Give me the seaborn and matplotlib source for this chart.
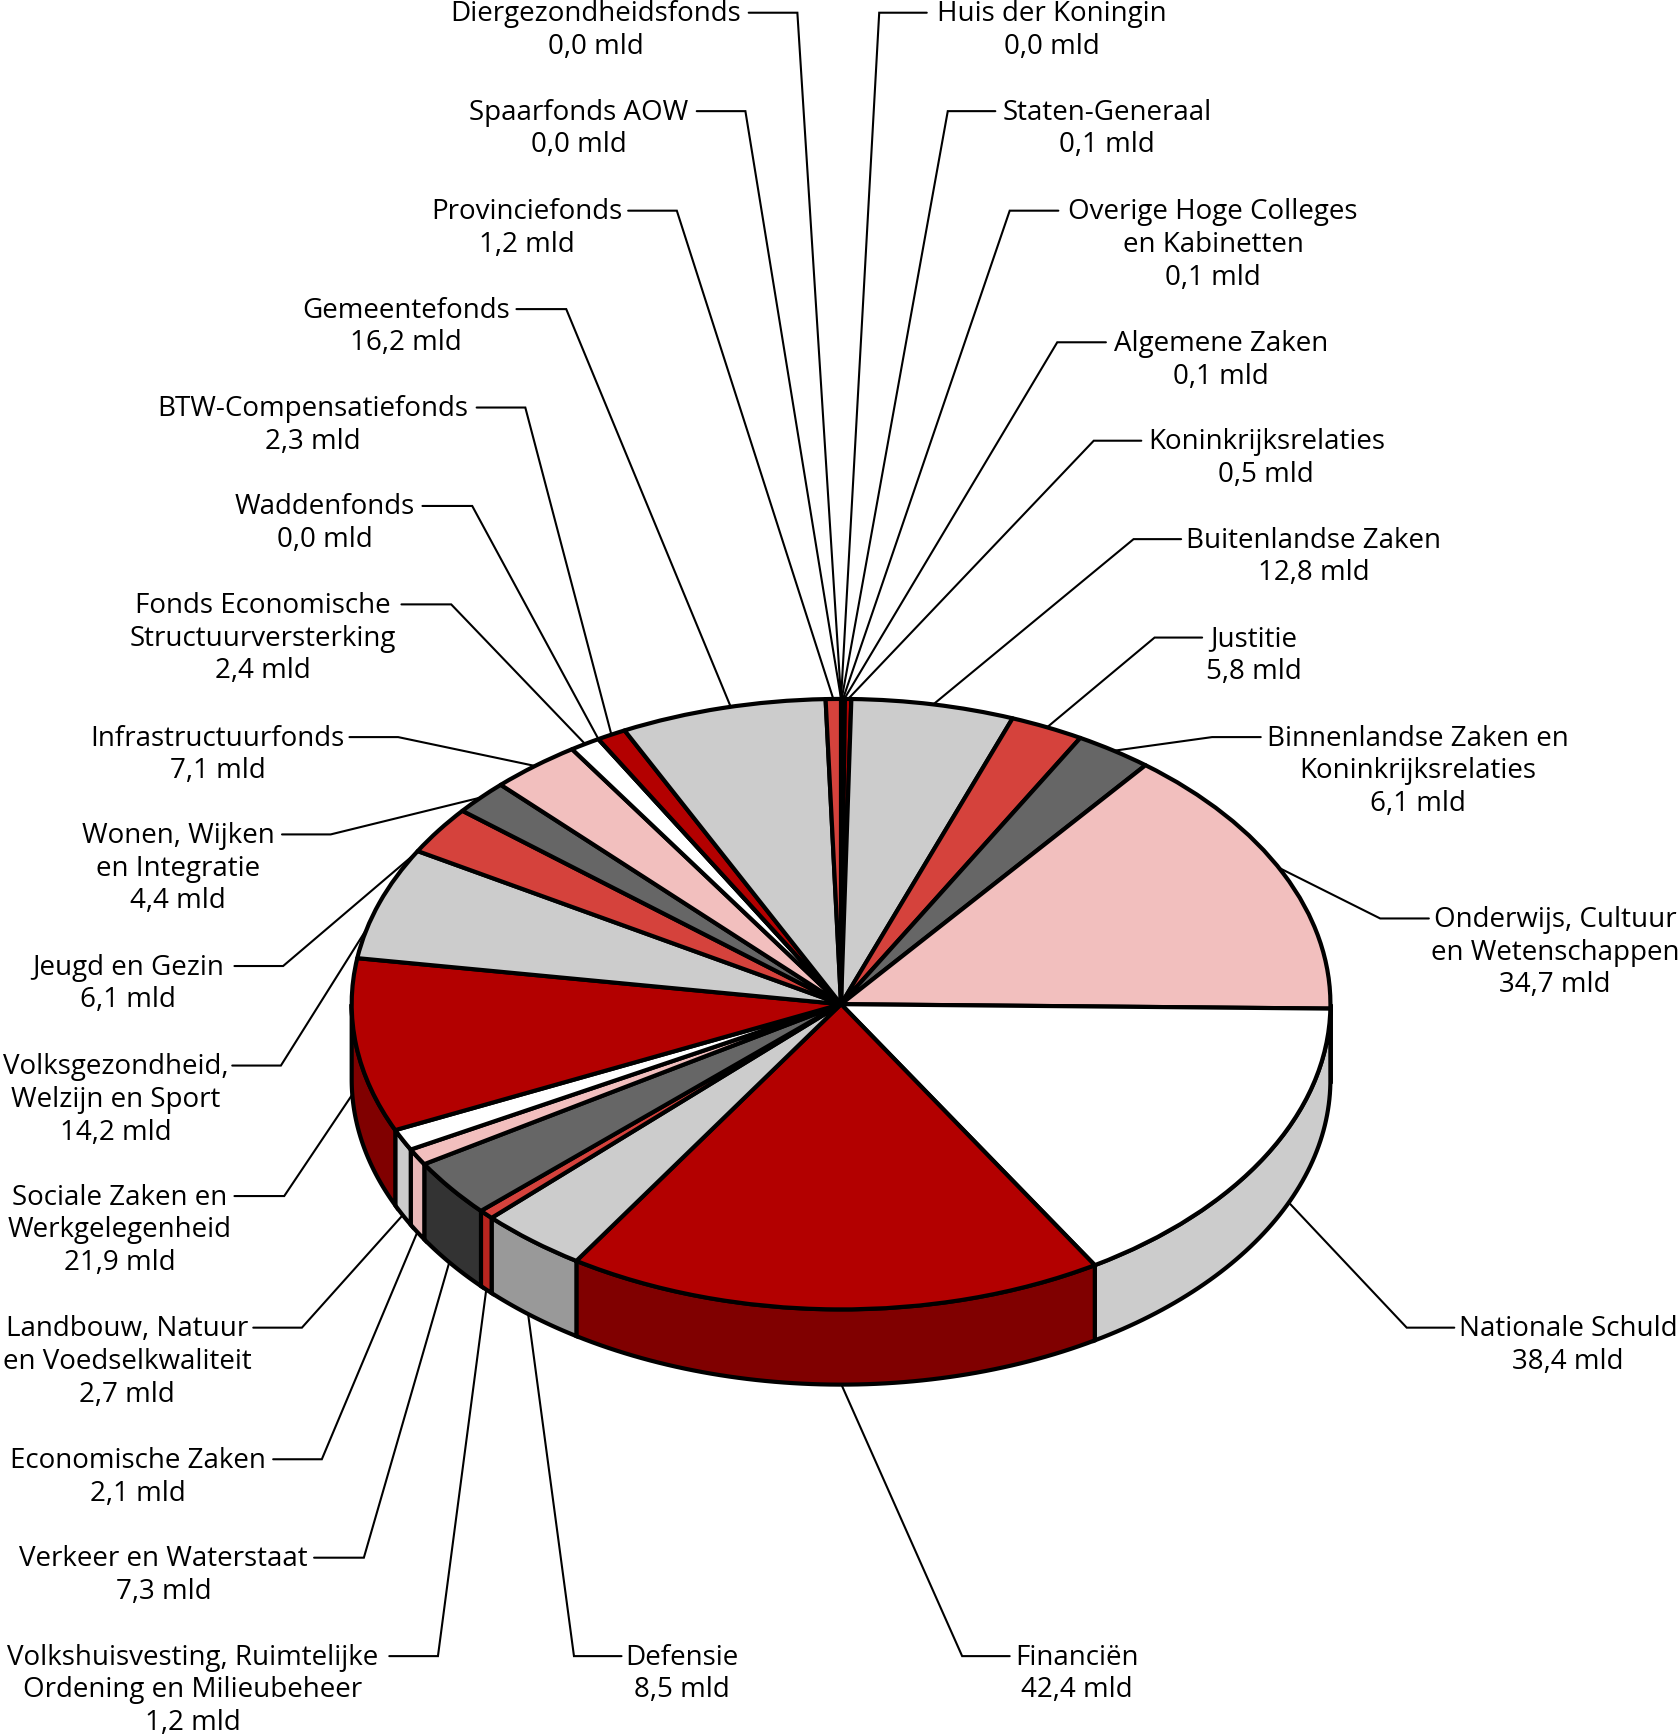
import numpy as np
import seaborn as sns
import matplotlib.pyplot as plt

# clockwise from the top of the pie
labels = ["Huis der Koningin", "Staten-Generaal", "Overige Hoge Colleges\nen Kabinetten", "Algemene Zaken",
          "Koninkrijksrelaties", "Buitenlandse Zaken", "Justitie", "Binnenlandse Zaken en\nKoninkrijksrelaties",
          "Onderwijs, Cultuur\nen Wetenschappen", "Nationale Schuld", "Financiën", "Defensie",
          "Volkshuisvesting, Ruimtelijke\nOrdening en Milieubeheer", "Verkeer en Waterstaat", "Economische Zaken",
          "Landbouw, Natuur\nen Voedselkwaliteit", "Sociale Zaken en\nWerkgelegenheid", "Volksgezondheid,\nWelzijn en Sport",
          "Jeugd en Gezin", "Wonen, Wijken\nen Integratie", "Infrastructuurfonds", "Fonds Economische\nStructuurversterking",
          "Waddenfonds", "BTW-Compensatiefonds", "Gemeentefonds", "Provinciefonds", "Spaarfonds AOW", "Diergezondheidsfonds"]
values = [0.0, 0.1, 0.1, 0.1, 0.5, 12.8, 5.8, 6.1, 34.7, 38.4, 42.4, 8.5, 1.2, 7.3, 2.1, 2.7, 21.9, 14.2,
          6.1, 4.4, 7.1, 2.4, 0.0, 2.3, 16.2, 1.2, 0.0, 0.0]

top_colors = ["#cccccc", "#d5423c", "#666666", "#f2bfbe", "#ffffff", "#b30000"]
side_colors = ["#999999", "#b8251f", "#333333", "#e8b8b8", "#cccccc", "#800000"]
color_idx = [1, 2, 3, 4, 5, 0, 1, 2, 3, 4, 5, 0, 1, 2, 3, 4, 5, 0, 1, 2, 3, 4, 5, 5, 0, 1, 2, 3]

# label layout in px of the 1520 wide version: text centre, first line y, end of stub, elbow
text_x = [951, 1001, 1097, 1104, 1145, 1188, 1134, 1282, 1406, 1418, 974, 617, 174, 148, 125, 115, 108, 105,
          116, 161, 197, 238, 294, 283, 367, 476, 523, 539]
text_y = [10, 99, 189, 308, 397, 486, 575, 665, 829, 1199, 1496, 1496, 1496, 1407, 1318, 1199, 1080, 962,
          872, 753, 665, 545, 456, 367, 278, 189, 99, 10]
stub_x = [838, 900, 957, 1000, 1032, 1068, 1087, 1140, 1292, 1315, 913, 562, 352, 284, 247, 229, 212, 210,
          212, 255, 316, 363, 382, 431, 467, 568, 630, 677]
elbow_x = [795, 857, 913, 956, 989, 1025, 1044, 1096, 1248, 1272, 870, 519, 396, 329, 291, 273, 257, 254,
           256, 299, 360, 408, 427, 475, 512, 612, 674, 721]
# small shifts (degrees) where the leader does not hit the middle of its slice
leader_shift = {"Nationale Schuld": -6, "Sociale Zaken en\nWerkgelegenheid": 5,
                "Volksgezondheid,\nWelzijn en Sport": -5, "Jeugd en Gezin": -5, "Gemeentefonds": 1,
                "Financiën": -0.8, "Defensie": 0.6, "Onderwijs, Cultuur\nen Wetenschappen": -1.2,
                "Verkeer en Waterstaat": 0.3}

W, H = 1681, 1734
scale = W / 1520
cx, cy = 760.5, 908
rx, ry = 442.5, 276
depth = 68 / ry

sns.set_theme(style="white")
plt.rcParams["font.family"] = ["Open Sans", "DejaVu Sans"]

fig = plt.figure(figsize=(W / 100, H / 100), dpi=100, facecolor="white")
ax = fig.add_axes([0, 0, 1, 1])

palette = sns.color_palette(top_colors)
wedges, _ = ax.pie(values, startangle=90, counterclock=False, colors=[palette[i] for i in color_idx],
                   wedgeprops=dict(edgecolor="black", linewidth=3.0, joinstyle="round", zorder=3))
ax.set_aspect("auto")
ax.set_xlim((0 - cx) / rx, (1520 - cx) / rx)
ax.set_ylim((H / scale - cy) / -ry, (0 - cy) / -ry)


def px(x, y):
    return (x - cx) / rx, (cy - y) / ry


edges = np.concatenate([[0], np.cumsum(values)]) / np.sum(values) * 360

# side wall, only the front half of the pie shows it
for i in range(len(values)):
    a, b = max(edges[i], 90), min(edges[i + 1], 270)
    if b <= a:
        continue
    t = np.radians(np.linspace(a, b, 60))
    xs = np.concatenate([np.sin(t), np.sin(t[::-1])])
    ys = np.concatenate([np.cos(t), np.cos(t[::-1]) - depth])
    ax.fill(xs, ys, facecolor=side_colors[color_idx[i]], edgecolor="black", linewidth=3.0, zorder=2)

# leaders and labels
for i, name in enumerate(labels):
    mid = (edges[i] + edges[i + 1]) / 2 + leader_shift.get(name, 0)
    t = np.radians(mid)
    ex, ey = np.sin(t), np.cos(t)
    if 90 < mid < 270:
        ey -= depth
    sx, sy = px(stub_x[i], text_y[i] + 1.5)
    kx, ky = px(elbow_x[i], text_y[i] + 1.5)
    ax.plot([sx, kx, ex], [sy, ky, ey], color="black", lw=1.5, zorder=1, solid_joinstyle="miter")
    lines = name.split("\n") + [f"{values[i]:.1f}".replace(".", ",") + " mld"]
    for j, line in enumerate(lines):
        tx, ty = px(text_x[i], text_y[i] + 9.2 + j * 29.6)
        ax.text(tx, ty, line, ha="center", va="baseline", fontsize=20, color="black")

fig.savefig("out.png", dpi=100)
